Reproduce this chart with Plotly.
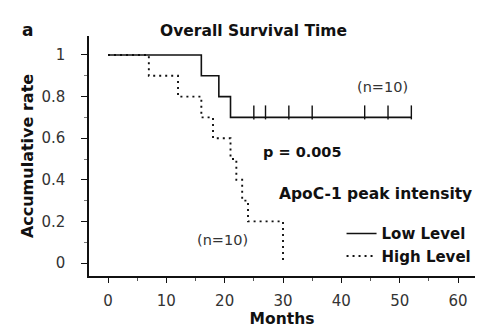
import plotly.graph_objects as go

# ---- data ----
low_time = [0, 16, 19, 21, 52]
low_surv = [1.0, 0.9, 0.8, 0.7, 0.7]
low_censor_time = [25, 27, 31, 35, 44, 48, 52]
high_time = [0, 7, 12, 16, 18, 21, 22, 23, 24, 30]
high_surv = [1.0, 0.9, 0.8, 0.7, 0.6, 0.5, 0.4, 0.3, 0.2, 0.0]
x_ticks = [0, 10, 20, 30, 40, 50, 60]
y_ticks = [0, 0.2, 0.4, 0.6, 0.8, 1]
y_tick_labels = ["0", "0.2", "0.4", "0.6", "0.8", "1"]

FONT = "DejaVu Sans"
BLACK = "#111111"

def surv_at(t):
    s = low_surv[0]
    for tt, ss in zip(low_time, low_surv):
        if tt <= t:
            s = ss
    return s

censor_y = [surv_at(t) + 0.024 for t in low_censor_time]

fig = go.Figure()
fig.add_trace(go.Scatter(x=low_time, y=low_surv, mode="lines", line_shape="hv",
                         line=dict(color=BLACK, width=1.6), name="Low Level"))
fig.add_trace(go.Scatter(x=low_censor_time, y=censor_y, mode="markers",
                         marker=dict(symbol="line-ns", size=10,
                                     line=dict(color=BLACK, width=1.4)),
                         showlegend=False, hoverinfo="skip"))
fig.add_trace(go.Scatter(x=high_time, y=high_surv, mode="lines", line_shape="hv",
                         line=dict(color=BLACK, width=1.9, dash="2px,4px"), name="High Level"))

fig.update_layout(
    width=478, height=336,
    margin=dict(l=89, r=3, t=36, b=60, autoexpand=False),
    paper_bgcolor="white", plot_bgcolor="white",
    font=dict(family=FONT, size=13, color="#333333"),
    showlegend=True,
    legend=dict(x=1.004, xanchor="right", y=0.245, yanchor="top",
                bgcolor="rgba(0,0,0,0)", tracegroupgap=0,
                itemwidth=30,
                font=dict(family=FONT, size=15, color=BLACK, weight="bold")),
    xaxis=dict(range=[-3.257, 62.91], tickvals=x_ticks, showgrid=False, zeroline=False,
               showline=True, linecolor=BLACK, linewidth=1.5,
               ticks="outside", ticklen=5, tickcolor=BLACK, tickwidth=1.2,
               tickfont=dict(size=15, color="#333333"),
               ticklabelstandoff=5,
               minor=dict(tickvals=[5, 15, 25, 35, 45, 55], ticks="outside", ticklen=3,
                          tickcolor="#555555"),
               title=dict(text="Months", standoff=4,
                          font=dict(size=15.5, color=BLACK, weight="bold"))),
    yaxis=dict(range=[-0.0625, 1.0913], tickvals=y_ticks, ticktext=y_tick_labels,
               showgrid=False, zeroline=False,
               showline=True, linecolor=BLACK, linewidth=1.5,
               ticks="outside", ticklen=6, tickcolor=BLACK, tickwidth=1.2,
               tickfont=dict(size=15, color="#333333"),
               ticklabelstandoff=13,
               minor=dict(tickvals=[0.1, 0.3, 0.5, 0.7, 0.9], ticks="outside", ticklen=3,
                          tickcolor="#777777"),
               title=dict(text="Accumulative rate", standoff=4,
                          font=dict(size=16, color=BLACK, weight="bold"))),
)

fig.add_annotation(text="Overall Survival Time", xref="paper", yref="paper",
                   x=(253 - 89) / 386, y=1 + (36 - 20) / 240, showarrow=False,
                   font=dict(family=FONT, size=15.5, color=BLACK, weight="bold"))
fig.add_annotation(text="a", xref="paper", yref="paper",
                   x=(20 - 89) / 386, y=1 + (36 - 18) / 240, showarrow=False,
                   font=dict(family=FONT, size=17, color=BLACK, weight="bold"))
fig.add_annotation(text="(n=10)", x=47.0, y=0.846, showarrow=False,
                   font=dict(family=FONT, size=14.5, color="#333333"))
fig.add_annotation(text="(n=10)", x=19.7, y=0.11, showarrow=False,
                   font=dict(family=FONT, size=14.5, color="#333333"))
fig.add_annotation(text="p = 0.005", x=33.3, y=0.534, showarrow=False,
                   font=dict(family=FONT, size=14.5, color=BLACK, weight="bold"))
fig.add_annotation(text="ApoC-1 peak intensity", xref="paper", yref="paper",
                   x=(474 - 89) / 386, xanchor="right", y=(276 - 205) / 240,
                   showarrow=False, font=dict(family=FONT, size=15.5, color=BLACK, weight="bold"))

fig.write_html("out.html")
